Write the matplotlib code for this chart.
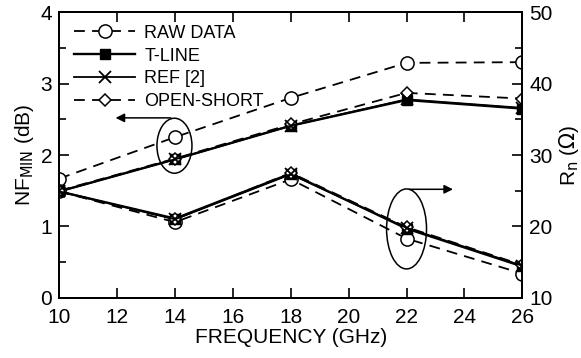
import matplotlib
matplotlib.use("Agg")
import matplotlib.pyplot as plt
from matplotlib.patches import Ellipse

plt.rcParams['font.family'] = ['Liberation Sans', 'DejaVu Sans']

freq = [10, 14, 18, 22, 26]

# NF_min (dB), left axis
nf_raw = [1.67, 2.25, 2.80, 3.29, 3.30]
nf_tline = [1.49, 1.94, 2.41, 2.77, 2.65]
nf_ref = [1.49, 1.94, 2.41, 2.78, 2.66]
nf_os = [1.50, 1.95, 2.43, 2.87, 2.79]

# Rn (ohm), right axis
rn_raw = [24.9, 20.6, 26.6, 18.3, 13.4]
rn_tline = [24.9, 21.1, 27.4, 19.7, 14.4]
rn_ref = [24.9, 21.0, 27.3, 19.8, 14.5]
rn_os = [24.9, 21.0, 27.5, 19.9, 14.6]

fig = plt.figure(figsize=(5.81, 3.58), dpi=100)
ax = fig.add_axes([0.102, 0.168, 0.797, 0.798])
ax2 = ax.twinx()

dash = (0, (6, 4))

def draw(a, y_raw, y_tl, y_ref, y_os, lbl=True):
    a.plot(freq, y_raw, color='black', ls=dash, lw=1.3, marker='o', ms=9.5,
           mfc='white', mec='black', mew=1.1, label='RAW DATA' if lbl else None)
    a.plot(freq, y_tl, color='black', ls='-', lw=1.7, marker='s', ms=7.5,
           mfc='black', mec='black', label='T-LINE' if lbl else None)
    a.plot(freq, y_os, color='black', ls=dash, lw=1.3, marker='D', ms=6.5,
           mfc='white', mec='black', mew=1.1, label='OPEN-SHORT' if lbl else None)
    a.plot(freq, y_ref, color='black', ls='-', lw=1.3, marker='x', ms=8,
           mec='black', mew=1.3, label='REF [2]' if lbl else None)

draw(ax, nf_raw, nf_tline, nf_ref, nf_os, lbl=True)
draw(ax2, rn_raw, rn_tline, rn_ref, rn_os, lbl=False)

ax.set_xlim(10, 26)
ax.set_ylim(0, 4)
ax2.set_ylim(10, 50)
ax.set_xticks(range(10, 27, 2))
ax.set_yticks([0, 1, 2, 3, 4])
ax.set_yticks([0.5, 1.5, 2.5, 3.5], minor=True)
ax2.set_yticks([10, 20, 30, 40, 50])
ax2.set_yticks([15, 25, 35, 45], minor=True)

for a in (ax, ax2):
    a.tick_params(direction='in', labelsize=15, length=7, width=1.2, pad=5)
    a.tick_params(which='minor', direction='in', length=5, width=1.2)
    for s in a.spines.values():
        s.set_linewidth(1.4)
ax.tick_params(top=True)
ax.tick_params(axis='x', pad=7)

ax.set_xlabel('FREQUENCY (GHz)', fontsize=15, labelpad=1)
ax.set_ylabel('NF$_{\\mathrm{MIN}}$ (dB)', fontsize=15, labelpad=3)
ax2.set_ylabel('R$_{\\mathrm{n}}$ ($\\Omega$)', fontsize=15, labelpad=3)

# annotations: ellipses with arrows
ax.add_patch(Ellipse((13.98, 2.13), 1.21, 0.77, fill=False, ec='black', lw=1.1))
ax.annotate('', xy=(11.85, 2.52), xytext=(13.95, 2.52),
            arrowprops=dict(arrowstyle='-|>', color='black', lw=1.1, mutation_scale=13))
ax2.add_patch(Ellipse((22.0, 19.65), 1.38, 11.2, fill=False, ec='black', lw=1.1))
ax2.annotate('', xy=(23.7, 25.2), xytext=(22.0, 25.2),
             arrowprops=dict(arrowstyle='-|>', color='black', lw=1.1, mutation_scale=13))

h, l = ax.get_legend_handles_labels()
order = ['RAW DATA', 'T-LINE', 'REF [2]', 'OPEN-SHORT']
hs = [h[l.index(o)] for o in order]
ax.legend(hs, order, loc='upper left', frameon=False, fontsize=13,
          handlelength=3.4, handletextpad=0.5, labelspacing=0.32,
          borderaxespad=0.0, borderpad=0.3, bbox_to_anchor=(0.02, 0.975))

fig.savefig('out.png', dpi=100)
